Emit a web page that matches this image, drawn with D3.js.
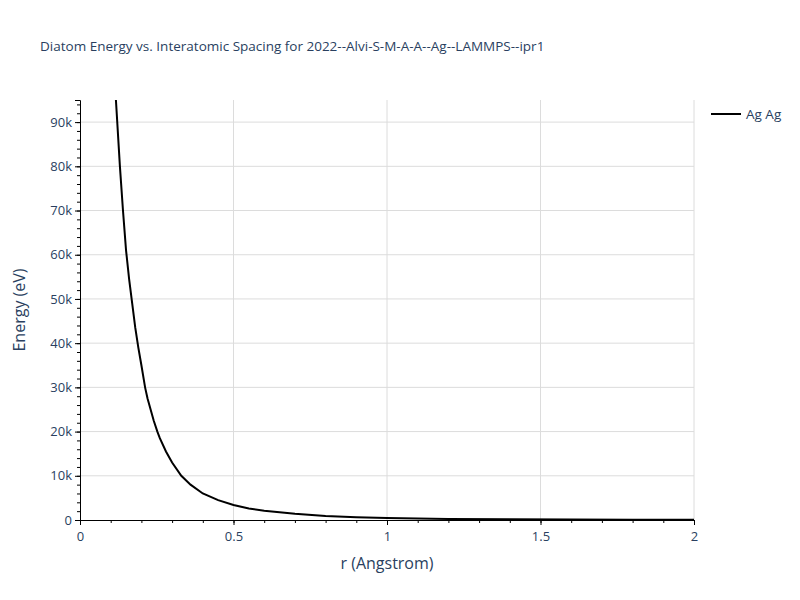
<!DOCTYPE html>
<html>
<head>
<script src="https://d3js.org/d3.v7.min.js"></script>
<style>
  body { margin: 0; background: #fff; }
  text { font-family: "Open Sans", Verdana, Arial, sans-serif; }
</style>
</head>
<body>
<script>
// diatom curve: r in Angstrom, energy in eV
var rValues = [0.117, 0.13, 0.14, 0.15, 0.16, 0.17, 0.18, 0.19, 0.20, 0.212, 0.22, 0.24, 0.252, 0.26, 0.28, 0.30,
               0.33, 0.36, 0.40, 0.45, 0.50, 0.55, 0.60, 0.70, 0.80, 0.90, 1.0, 1.2, 1.4, 1.6, 1.8, 2.0];
var energyValues = [95000, 80000, 70000, 61000, 54500, 49000, 43500, 39000, 35000, 30000, 27500, 22500, 20000, 18500, 15500, 13000,
                    10000, 8000, 6000, 4500, 3400, 2600, 2100, 1400, 900, 650, 450, 250, 150, 90, 50, 30];
var xTicks = [0, 0.5, 1, 1.5, 2];
var yTicks = [0, 10000, 20000, 30000, 40000, 50000, 60000, 70000, 80000, 90000];
var seriesName = "Ag Ag";

var width = 800, height = 600;
var margin = {left: 80, right: 106, top: 100, bottom: 80};
var textColor = "#2a3f5f";

var svg = d3.select("body").append("svg").attr("width", width).attr("height", height);

var x = d3.scaleLinear().domain([0, 2]).range([margin.left, width - margin.right]);
var y = d3.scaleLinear().domain([0, 95000]).range([height - margin.bottom, margin.top]);

// grid
svg.append("g").selectAll("line").data(xTicks.slice(1)).enter().append("line")
  .attr("x1", d => x(d)).attr("x2", d => x(d))
  .attr("y1", y(95000)).attr("y2", y(0))
  .attr("stroke", "#dcdcdc").attr("stroke-width", 1);
svg.append("g").selectAll("line").data(yTicks.slice(1)).enter().append("line")
  .attr("x1", x(0)).attr("x2", x(2))
  .attr("y1", d => y(d)).attr("y2", d => y(d))
  .attr("stroke", "#dcdcdc").attr("stroke-width", 1);

// minor ticks
svg.append("g").attr("transform", "translate(0," + y(0) + ")")
  .call(d3.axisBottom(x).tickValues(d3.range(0, 21).map(i => i / 10)).tickSize(3).tickFormat(""))
  .call(g => g.select(".domain").remove());
svg.append("g").attr("transform", "translate(" + x(0) + ",0)")
  .call(d3.axisLeft(y).tickValues(d3.range(0, 48).map(i => i * 2000)).tickSize(3).tickFormat(""))
  .call(g => g.select(".domain").remove());

// major axes
var xAxis = svg.append("g").attr("transform", "translate(0," + y(0) + ")")
  .call(d3.axisBottom(x).tickValues(xTicks).tickSize(5).tickPadding(4).tickFormat(d3.format("")));
var yAxis = svg.append("g").attr("transform", "translate(" + x(0) + ",0)")
  .call(d3.axisLeft(y).tickValues(yTicks).tickSize(5).tickPadding(3)
    .tickFormat(d => d === 0 ? "0" : (d / 1000) + "k"));
[xAxis, yAxis].forEach(function(g) {
  g.selectAll("text").attr("fill", textColor).style("font-size", "13px");
  g.select(".domain").attr("stroke", "#000");
});
xAxis.selectAll("text").attr("dy", "0.9em");

// curve
svg.append("clipPath").attr("id", "plotclip").append("rect")
  .attr("x", margin.left).attr("y", margin.top)
  .attr("width", width - margin.left - margin.right)
  .attr("height", height - margin.bottom - margin.top);
var line = d3.line().x((d, i) => x(rValues[i])).y(d => y(d));
svg.append("path").datum(energyValues)
  .attr("clip-path", "url(#plotclip)")
  .attr("d", line).attr("fill", "none").attr("stroke", "#000").attr("stroke-width", 2);

// title
svg.append("text").attr("x", 40).attr("y", 51).text("Diatom Energy vs. Interatomic Spacing for 2022--Alvi-S-M-A-A--Ag--LAMMPS--ipr1")
  .attr("fill", textColor).style("font-size", "13.5px");

// axis titles
svg.append("text").attr("x", (x(0) + x(2)) / 2).attr("y", 569).attr("text-anchor", "middle")
  .attr("fill", textColor).style("font-size", "16px").text("r (Angstrom)");
svg.append("text").attr("transform", "translate(25," + (margin.top + height - margin.bottom) / 2 + ") rotate(-90)")
  .attr("text-anchor", "middle").attr("fill", textColor).style("font-size", "16px").text("Energy (eV)");

// legend
var legend = svg.append("g").attr("transform", "translate(711,114)");
legend.append("line").attr("x1", 0).attr("x2", 30).attr("stroke", "#000").attr("stroke-width", 2);
legend.append("text").attr("x", 35).attr("y", 5).attr("fill", textColor).style("font-size", "13.5px").text(seriesName);
</script>
</body>
</html>
